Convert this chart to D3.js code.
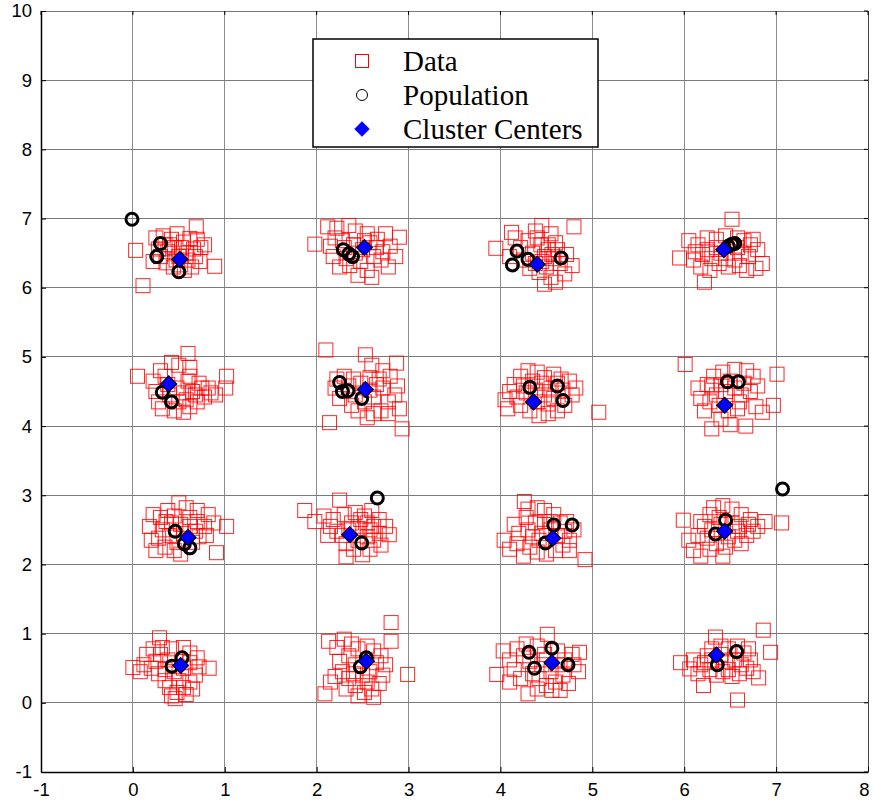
<!DOCTYPE html>
<html>
<head>
<meta charset="utf-8">
<script src="https://cdn.jsdelivr.net/npm/d3@7"></script>
<style>
  html, body { margin: 0; padding: 0; background: #fff; }
  svg { display: block; }
</style>
</head>
<body>
<svg id="chart" width="873" height="803"></svg>
<script>
// Axis ticks
const xTicks = [-1, 0, 1, 2, 3, 4, 5, 6, 7, 8];
const yTicks = [-1, 0, 1, 2, 3, 4, 5, 6, 7, 8, 9, 10];

// Legend entries
const legendLabels = ["Data", "Population", "Cluster Centers"];

// Observed samples, grouped around sixteen grid locations
const dataTopRow = [
  [0.03,6.54],[0.11,6.03],[0.69,6.88],[0.89,6.31],[0.78,6.62],[0.73,6.38],[0.25,6.72],[0.33,6.75],[0.42,6.70],[0.48,6.78],[0.55,6.66],[0.62,6.71],[0.66,6.56],[0.58,6.50],[0.45,6.58],[0.38,6.52],[0.30,6.45],[0.36,6.36],[0.44,6.30],[0.52,6.33],[0.60,6.40],[0.68,6.45],[0.74,6.58],[0.50,6.45],[0.40,6.62],[0.56,6.25],[0.64,6.30],[0.22,6.38],[0.28,6.56],[0.70,6.70],[0.47,6.40],[0.35,6.62],[0.53,6.58],
  [1.98,6.63],[2.12,6.88],[2.22,6.86],[2.35,6.90],[2.42,6.82],[2.55,6.78],[2.66,6.70],[2.90,6.73],[2.80,6.60],[2.72,6.52],[2.62,6.45],[2.48,6.38],[2.36,6.32],[2.25,6.30],[2.18,6.45],[2.15,6.60],[2.28,6.68],[2.40,6.62],[2.50,6.55],[2.58,6.65],[2.70,6.40],[2.78,6.30],[2.55,6.25],[2.45,6.18],[2.60,6.15],[2.32,6.42],[2.42,6.50],[2.65,6.58],[2.20,6.72],[2.52,6.68],[2.75,6.78],[2.30,6.58],[2.86,6.45],
  [3.95,6.57],[4.12,6.80],[4.16,6.72],[4.38,6.82],[4.45,6.90],[4.55,6.78],[4.80,6.88],[4.60,6.65],[4.52,6.55],[4.44,6.62],[4.30,6.68],[4.22,6.58],[4.35,6.50],[4.48,6.45],[4.58,6.42],[4.65,6.35],[4.72,6.48],[4.78,6.32],[4.50,6.30],[4.42,6.22],[4.55,6.15],[4.48,6.05],[4.60,6.08],[4.38,6.35],[4.25,6.40],[4.10,6.45],[4.52,6.62],[4.40,6.72],[4.62,6.55],[4.70,6.20],[4.45,6.38],[4.32,6.28],[4.56,6.48],
  [5.95,6.43],[6.52,6.99],[6.22,6.08],[6.05,6.68],[6.15,6.62],[6.25,6.72],[6.35,6.70],[6.45,6.75],[6.58,6.72],[6.65,6.68],[6.72,6.62],[6.80,6.55],[6.85,6.35],[6.78,6.28],[6.70,6.45],[6.62,6.50],[6.55,6.40],[6.48,6.30],[6.38,6.35],[6.30,6.42],[6.20,6.48],[6.10,6.40],[6.18,6.30],[6.28,6.25],[6.40,6.50],[6.60,6.32],[6.68,6.25],[6.35,6.58],[6.25,6.55],[6.75,6.70],[6.45,6.42],[6.58,6.58],[6.12,6.52]
];
const dataUpperRow = [
  [0.05,4.72],[1.02,4.72],[1.01,4.55],[0.60,5.05],[0.42,4.92],[0.50,4.88],[0.62,4.85],[0.30,4.80],[0.22,4.65],[0.25,4.50],[0.28,4.35],[0.32,4.25],[0.45,4.22],[0.55,4.20],[0.62,4.28],[0.70,4.35],[0.78,4.42],[0.85,4.48],[0.90,4.45],[0.75,4.55],[0.65,4.50],[0.55,4.48],[0.48,4.55],[0.38,4.60],[0.60,4.65],[0.58,4.38],[0.68,4.45],[0.82,4.55],[0.50,4.35],[0.40,4.45],[0.35,4.72],[0.62,4.72],[0.72,4.62],
  [2.10,5.10],[2.14,4.05],[2.93,3.96],[2.87,4.91],[2.53,5.03],[2.60,4.88],[2.72,4.80],[2.80,4.72],[2.88,4.58],[2.85,4.45],[2.78,4.35],[2.70,4.22],[2.62,4.18],[2.55,4.12],[2.45,4.22],[2.38,4.30],[2.25,4.40],[2.20,4.55],[2.22,4.68],[2.30,4.72],[2.40,4.68],[2.48,4.62],[2.58,4.70],[2.65,4.60],[2.72,4.55],[2.62,4.42],[2.52,4.35],[2.42,4.45],[2.68,4.68],[2.35,4.58],[2.78,4.18],[2.90,4.25],[2.58,4.52],
  [5.07,4.20],[4.05,4.38],[4.08,4.25],[4.10,4.50],[4.15,4.60],[4.22,4.72],[4.30,4.80],[4.40,4.78],[4.48,4.70],[4.58,4.75],[4.66,4.68],[4.75,4.65],[4.82,4.55],[4.78,4.45],[4.70,4.30],[4.62,4.22],[4.52,4.18],[4.42,4.15],[4.32,4.22],[4.22,4.30],[4.18,4.42],[4.28,4.48],[4.38,4.52],[4.48,4.45],[4.55,4.55],[4.45,4.62],[4.35,4.65],[4.25,4.58],[4.58,4.40],[4.68,4.52],[4.40,4.35],[4.52,4.32],[4.62,4.62],
  [6.01,4.89],[7.01,4.75],[6.97,4.30],[6.30,3.96],[6.67,4.00],[6.22,4.22],[6.18,4.40],[6.15,4.55],[6.25,4.60],[6.32,4.72],[6.42,4.78],[6.55,4.82],[6.68,4.80],[6.75,4.72],[6.80,4.58],[6.72,4.50],[6.62,4.45],[6.55,4.55],[6.45,4.50],[6.35,4.45],[6.28,4.35],[6.38,4.30],[6.48,4.22],[6.58,4.25],[6.78,4.28],[6.85,4.20],[6.40,4.10],[6.50,4.02],[6.60,4.35],[6.30,4.58],[6.50,4.65],[6.65,4.62],[6.40,4.60]
];
const dataLowerRow = [
  [1.02,2.55],[0.91,2.17],[0.50,2.89],[0.18,2.55],[0.20,2.35],[0.22,2.72],[0.30,2.68],[0.38,2.78],[0.45,2.70],[0.58,2.82],[0.70,2.78],[0.82,2.72],[0.88,2.60],[0.78,2.55],[0.70,2.62],[0.62,2.55],[0.52,2.58],[0.42,2.60],[0.32,2.50],[0.28,2.38],[0.35,2.25],[0.45,2.20],[0.52,2.15],[0.65,2.32],[0.72,2.40],[0.80,2.42],[0.40,2.42],[0.55,2.45],[0.68,2.48],[0.25,2.20],[0.48,2.32],[0.62,2.68],[0.36,2.62],
  [1.87,2.78],[2.25,2.93],[2.79,2.43],[2.50,2.14],[2.32,2.11],[1.98,2.62],[2.08,2.70],[2.15,2.55],[2.22,2.48],[2.18,2.65],[2.30,2.72],[2.42,2.75],[2.52,2.70],[2.60,2.78],[2.68,2.65],[2.75,2.55],[2.62,2.55],[2.55,2.60],[2.45,2.52],[2.38,2.60],[2.28,2.42],[2.32,2.30],[2.40,2.22],[2.45,2.35],[2.55,2.40],[2.62,2.35],[2.70,2.28],[2.58,2.22],[2.68,2.45],[2.48,2.65],[2.35,2.50],[2.12,2.42],[2.58,2.50],
  [4.92,2.07],[4.04,2.35],[4.26,2.91],[4.10,2.22],[4.18,2.30],[4.20,2.45],[4.15,2.58],[4.28,2.68],[4.30,2.80],[4.40,2.82],[4.48,2.78],[4.58,2.72],[4.72,2.62],[4.80,2.50],[4.75,2.35],[4.68,2.28],[4.60,2.20],[4.50,2.15],[4.40,2.18],[4.32,2.25],[4.35,2.40],[4.45,2.45],[4.55,2.50],[4.62,2.42],[4.70,2.48],[4.38,2.60],[4.48,2.62],[4.30,2.50],[4.75,2.20],[4.25,2.12],[4.55,2.62],[4.42,2.35],[4.65,2.60],
  [7.06,2.60],[5.99,2.64],[6.05,2.35],[6.10,2.20],[6.18,2.12],[6.15,2.42],[6.22,2.55],[6.28,2.72],[6.32,2.82],[6.42,2.85],[6.52,2.80],[6.62,2.72],[6.72,2.65],[6.88,2.62],[6.80,2.55],[6.75,2.48],[6.68,2.42],[6.60,2.55],[6.52,2.60],[6.40,2.58],[6.30,2.50],[6.25,2.38],[6.35,2.30],[6.45,2.25],[6.55,2.35],[6.62,2.30],[6.48,2.40],[6.38,2.68],[6.58,2.48],[6.28,2.22],[6.70,2.58],[6.42,2.12],[6.18,2.62]
];
const dataBottomRow = [
  [0.00,0.51],[0.83,0.50],[0.29,0.94],[0.46,0.06],[0.15,0.70],[0.22,0.78],[0.32,0.80],[0.42,0.78],[0.55,0.80],[0.62,0.72],[0.70,0.65],[0.72,0.52],[0.68,0.40],[0.62,0.30],[0.55,0.22],[0.48,0.15],[0.40,0.22],[0.35,0.32],[0.28,0.42],[0.20,0.50],[0.12,0.55],[0.08,0.45],[0.25,0.60],[0.38,0.62],[0.45,0.45],[0.55,0.50],[0.62,0.58],[0.35,0.48],[0.50,0.32],[0.58,0.12],[0.42,0.10],[0.65,0.20],[0.30,0.70],
  [2.81,1.16],[2.81,0.89],[2.09,0.13],[2.99,0.41],[2.13,0.89],[2.22,0.80],[2.30,0.92],[2.38,0.85],[2.45,0.78],[2.55,0.82],[2.62,0.75],[2.70,0.68],[2.75,0.55],[2.72,0.40],[2.68,0.28],[2.60,0.20],[2.52,0.15],[2.42,0.25],[2.35,0.35],[2.28,0.45],[2.20,0.38],[2.15,0.30],[2.25,0.60],[2.35,0.68],[2.42,0.55],[2.50,0.40],[2.58,0.45],[2.65,0.58],[2.32,0.20],[2.45,0.10],[2.62,0.08],[2.40,0.42],[2.55,0.30],
  [4.03,0.75],[3.96,0.41],[4.30,0.13],[4.56,0.18],[4.51,0.99],[4.86,0.73],[4.74,0.28],[4.10,0.62],[4.15,0.48],[4.22,0.35],[4.18,0.78],[4.28,0.85],[4.40,0.82],[4.48,0.70],[4.62,0.75],[4.70,0.62],[4.80,0.55],[4.85,0.45],[4.68,0.40],[4.60,0.30],[4.50,0.25],[4.42,0.35],[4.35,0.42],[4.45,0.55],[4.55,0.45],[4.62,0.55],[4.32,0.60],[4.25,0.68],[4.40,0.20],[4.65,0.18],[4.10,0.30],[4.50,0.62],[4.78,0.70],
  [6.86,1.05],[6.94,0.73],[6.58,0.04],[5.96,0.58],[6.06,0.49],[6.21,0.25],[6.34,0.95],[6.81,0.36],[6.10,0.62],[6.18,0.55],[6.25,0.68],[6.30,0.78],[6.40,0.82],[6.48,0.78],[6.58,0.82],[6.65,0.72],[6.72,0.62],[6.68,0.50],[6.60,0.42],[6.52,0.38],[6.42,0.45],[6.35,0.40],[6.28,0.48],[6.22,0.58],[6.45,0.60],[6.55,0.62],[6.62,0.55],[6.40,0.70],[6.75,0.45],[6.48,0.48],[6.30,0.62],[6.70,0.78],[6.15,0.42]
];

// Population members
const populationPoints = [
  [-0.01,6.99],[0.30,6.64],[0.26,6.45],[0.50,6.23],
  [2.29,6.55],[2.35,6.49],[2.39,6.45],
  [4.18,6.53],[4.13,6.33],[4.30,6.41],[4.66,6.43],
  [6.48,6.60],[6.52,6.63],[6.55,6.64],
  [0.32,4.49],[0.42,4.35],
  [2.25,4.63],[2.28,4.50],[2.34,4.51],[2.49,4.40],
  [4.32,4.56],[4.62,4.58],[4.68,4.37],
  [6.47,4.64],[6.59,4.64],
  [0.46,2.48],[0.56,2.30],[0.62,2.24],
  [2.49,2.31],[2.66,2.96],
  [4.58,2.57],[4.78,2.57],[4.49,2.31],
  [6.45,2.64],[6.34,2.44],[7.07,3.09],
  [0.535,0.65],[0.425,0.53],
  [2.54,0.65],[2.475,0.52],
  [4.31,0.73],[4.56,0.79],[4.37,0.50],[4.735,0.55],
  [6.57,0.74],[6.36,0.55]
];

// Estimated cluster centers
const centerPoints = [
  [0.51,6.41],[2.52,6.58],[4.40,6.34],[6.43,6.55],
  [0.39,4.61],[2.53,4.53],[4.36,4.35],[6.44,4.30],
  [0.60,2.39],[2.36,2.43],[4.57,2.38],[6.44,2.48],
  [0.52,0.54],[2.54,0.60],[4.56,0.58],[6.35,0.69]
];

const dataPoints = [].concat(dataTopRow, dataUpperRow, dataLowerRow, dataBottomRow);

const svg = d3.select("#chart");
const margin = { left: 41, right: 5, top: 11, bottom: 31 };
const W = 873, H = 803;
const x = d3.scaleLinear().domain([-1, 8]).range([margin.left, W - margin.right]);
const y = d3.scaleLinear().domain([-1, 10]).range([H - margin.bottom, margin.top]);

const x0 = x.range()[0], x1 = x.range()[1];
const y0 = y.range()[0], y1 = y.range()[1];

// Grid
const grid = svg.append("g");
grid.selectAll("line.gx").data(xTicks).join("line")
  .attr("x1", d => x(d)).attr("x2", d => x(d))
  .attr("y1", y1).attr("y2", y0)
  .attr("stroke", "#8c8c8c").attr("stroke-width", 1).attr("shape-rendering", "crispEdges");
grid.selectAll("line.gy").data(yTicks).join("line")
  .attr("x1", x0).attr("x2", x1)
  .attr("y1", d => y(d)).attr("y2", d => y(d))
  .attr("stroke", "#7a7a7a").attr("stroke-width", 1).attr("shape-rendering", "crispEdges");

// Frame (top and right edges lighter)
svg.append("line").attr("x1", x0).attr("x2", x1).attr("y1", y1).attr("y2", y1)
  .attr("stroke", "#777").attr("stroke-width", 1).attr("shape-rendering", "crispEdges");
svg.append("line").attr("x1", x1).attr("x2", x1).attr("y1", y1).attr("y2", y0)
  .attr("stroke", "#444").attr("stroke-width", 1).attr("shape-rendering", "crispEdges");

// Axes with inward ticks
const fontAxis = "Liberation Sans, Arial, sans-serif";
const xAxis = d3.axisBottom(x).tickValues(xTicks).tickSizeInner(-5).tickSizeOuter(0).tickPadding(11).tickFormat(d => String(d));
const yAxis = d3.axisLeft(y).tickValues(yTicks).tickSizeInner(-5).tickSizeOuter(0).tickPadding(9).tickFormat(d => String(d));

const gx = svg.append("g").attr("transform", `translate(0,${y0})`).call(xAxis);
const gy = svg.append("g").attr("transform", `translate(${x0},0)`).call(yAxis);
[gx, gy].forEach(g => {
  g.select(".domain").attr("stroke", "#000").attr("stroke-width", 1.5);
  g.selectAll(".tick line").attr("stroke", "#000").attr("stroke-width", 1);
  g.selectAll(".tick text").attr("font-family", fontAxis).attr("font-size", 18.5).attr("fill", "#000");
});
gx.selectAll(".tick text").attr("dy", "0.71em");
// keep the last label inside the canvas
gx.selectAll(".tick text").filter(d => d === xTicks[xTicks.length - 1]).attr("dx", -4);

// Mirror ticks on top and right edges
svg.append("g").selectAll("line").data(xTicks).join("line")
  .attr("x1", d => x(d)).attr("x2", d => x(d)).attr("y1", y1).attr("y2", y1 + 4)
  .attr("stroke", "#000");
svg.append("g").selectAll("line").data(yTicks).join("line")
  .attr("x1", x1).attr("x2", x1 - 4).attr("y1", d => y(d)).attr("y2", d => y(d))
  .attr("stroke", "#000");

// Data squares
const sq = 14;
svg.append("g").selectAll("rect").data(dataPoints).join("rect")
  .attr("x", d => x(d[0]) - sq / 2).attr("y", d => y(d[1]) - sq / 2)
  .attr("width", sq).attr("height", sq)
  .attr("fill", "none").attr("stroke", "#ff0000").attr("stroke-opacity", 0.85).attr("stroke-width", 1);

// Population circles
svg.append("g").selectAll("circle").data(populationPoints).join("circle")
  .attr("cx", d => x(d[0])).attr("cy", d => y(d[1])).attr("r", 6)
  .attr("fill", "none").attr("stroke", "#000").attr("stroke-width", 3);

// Cluster centers as diamonds
const diamond = d3.symbol().type(d3.symbolSquare).size(130);
svg.append("g").selectAll("path").data(centerPoints).join("path")
  .attr("d", diamond)
  .attr("transform", d => `translate(${x(d[0])},${y(d[1])}) rotate(45)`)
  .attr("fill", "#0000ff").attr("stroke", "#000").attr("stroke-width", 1);

// Legend
const lg = svg.append("g");
lg.append("rect").attr("x", 313).attr("y", 39).attr("width", 285).attr("height", 108)
  .attr("fill", "#fff").attr("stroke", "#000").attr("stroke-width", 1.5);
const rows = [61, 95, 129];
lg.append("rect").attr("x", 362 - 6.5).attr("y", rows[0] - 6.5).attr("width", 13).attr("height", 13)
  .attr("fill", "none").attr("stroke", "#ff0000").attr("stroke-width", 1);
lg.append("circle").attr("cx", 362).attr("cy", rows[1]).attr("r", 5.5)
  .attr("fill", "none").attr("stroke", "#000").attr("stroke-width", 1);
lg.append("path").attr("d", d3.symbol().type(d3.symbolSquare).size(110)).attr("transform", `translate(362,${rows[2]}) rotate(45)`)
  .attr("fill", "#0000ff").attr("stroke", "#0000ff").attr("stroke-width", 0.5);
lg.selectAll("text").data(legendLabels).join("text")
  .attr("x", 403).attr("y", (d, i) => rows[i])
  .attr("dy", "0.35em")
  .attr("font-family", "Liberation Serif, 'Times New Roman', serif")
  .attr("font-size", 29).attr("fill", "#000")
  .text(d => d);
</script>
</body>
</html>
